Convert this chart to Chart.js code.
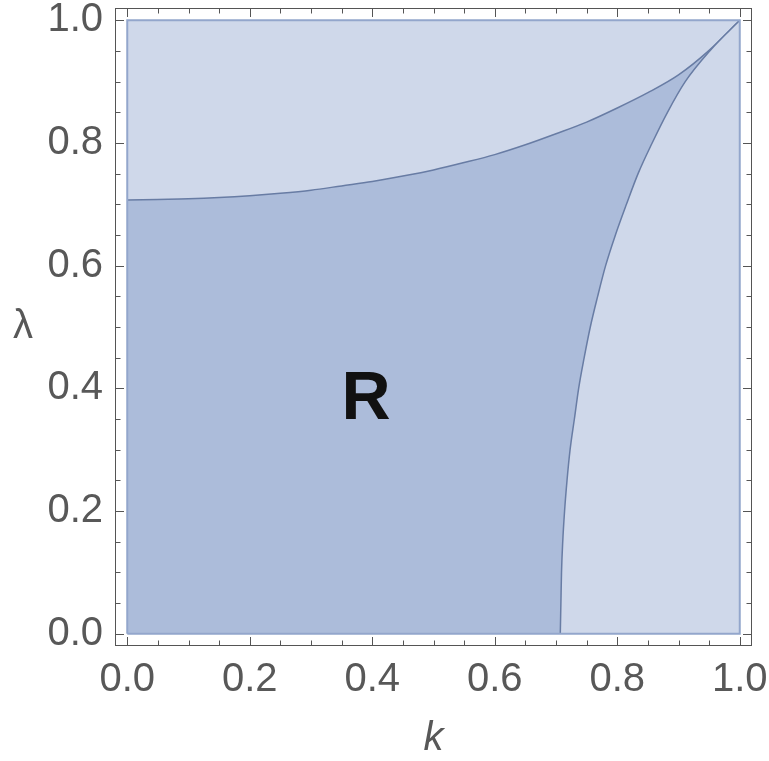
<!DOCTYPE html>
<html>
<head>
<meta charset="utf-8">
<title>Region R</title>
<script src="https://cdn.jsdelivr.net/npm/chart.js@4"></script>
<style>
  html, body { margin: 0; padding: 0; background: #fff; }
  #wrap { width: 769px; height: 761px; }
</style>
</head>
<body>
<div id="wrap"><canvas id="regionChart"></canvas></div>
<script>
// Upper boundary of R (k, lambda)
const upperK      = [0, 0.05, 0.1, 0.15, 0.2, 0.25, 0.3, 0.35, 0.4, 0.45, 0.5, 0.55, 0.6, 0.65, 0.7, 0.75, 0.8, 0.85, 0.9, 0.95, 1.0];
const upperLambda = [0.707, 0.708, 0.709, 0.711, 0.714, 0.718, 0.723, 0.730, 0.737, 0.746, 0.756, 0.768, 0.781, 0.797, 0.815, 0.834, 0.857, 0.882, 0.911, 0.951, 1.0];

// Right boundary of R (k, lambda)
const rightK      = [0.707, 0.708, 0.709, 0.711, 0.714, 0.718, 0.723, 0.730, 0.737, 0.746, 0.756, 0.768, 0.781, 0.797, 0.815, 0.834, 0.857, 0.882, 0.911, 0.951, 1.0];
const rightLambda = [0, 0.05, 0.1, 0.15, 0.2, 0.25, 0.3, 0.35, 0.4, 0.45, 0.5, 0.55, 0.6, 0.65, 0.7, 0.75, 0.8, 0.85, 0.9, 0.95, 1.0];

// The whole unit square, drawn as the lighter region
const squareK      = [0, 0, 1, 1, 0];
const squareLambda = [0, 1, 1, 0, 0];

// Ticks
const majorTicks = [0, 0.2, 0.4, 0.6, 0.8, 1.0];
const tickLabels = ['0.0', '0.2', '0.4', '0.6', '0.8', '1.0'];
const minorTicks = [0.05, 0.1, 0.15, 0.25, 0.3, 0.35, 0.45, 0.5, 0.55, 0.65, 0.7, 0.75, 0.85, 0.9, 0.95];
const axisMin = -0.02;
const axisMax = 1.02;

// Region label
const regionLabel = 'R';
const regionLabelK = 0.39;
const regionLabelLambda = 0.38;

const LIGHT = 'rgb(207, 216, 234)';
const DARK = 'rgb(172, 188, 218)';
const EDGE = 'rgb(147, 166, 204)';
const CURVE = 'rgb(104, 124, 164)';
const FRAME = 'rgb(85, 85, 85)';
const TEXT = 'rgb(88, 88, 88)';

const toPoints = (xs, ys) => xs.map((x, i) => ({ x: x, y: ys[i] }));

const upperPts = toPoints(upperK, upperLambda);
const rightPts = toPoints(rightK, rightLambda);
const squarePts = toPoints(squareK, squareLambda);
const squareTop = [{ x: squareK[1], y: squareLambda[1] }, { x: squareK[2], y: squareLambda[2] }];

// frame, inward ticks and the free texts
const framePlugin = {
    id: 'frame',
    afterDraw(chart) {
        const { ctx, chartArea: a, scales } = chart;
        const xs = scales.x, ys = scales.y;
        ctx.save();
        ctx.strokeStyle = FRAME;
        ctx.lineWidth = 1;
        ctx.strokeRect(a.left + 0.5, a.top + 0.5, a.right - a.left - 1, a.bottom - a.top - 1);

        const drawTicks = (values, len) => {
            ctx.beginPath();
            values.forEach(v => {
                const px = Math.round(xs.getPixelForValue(v)) + 0.5;
                const py = Math.round(ys.getPixelForValue(v)) + 0.5;
                ctx.moveTo(px, a.bottom); ctx.lineTo(px, a.bottom - len);
                ctx.moveTo(px, a.top); ctx.lineTo(px, a.top + len);
                ctx.moveTo(a.left, py); ctx.lineTo(a.left + len, py);
                ctx.moveTo(a.right, py); ctx.lineTo(a.right - len, py);
            });
            ctx.stroke();
        };
        drawTicks(majorTicks, 9);
        drawTicks(minorTicks, 5.5);

        // lambda axis title, kept upright
        ctx.fillStyle = TEXT;
        ctx.font = '40px "Liberation Sans", Arial, sans-serif';
        ctx.textAlign = 'center';
        ctx.textBaseline = 'middle';
        ctx.fillText('λ', 23, (a.top + a.bottom) / 2);

        // region label
        ctx.fillStyle = '#111';
        ctx.font = 'bold 68px "Liberation Sans", Arial, sans-serif';
        ctx.fillText(regionLabel, xs.getPixelForValue(regionLabelK), ys.getPixelForValue(regionLabelLambda));
        ctx.restore();
    }
};

const tickFont = { family: '"Liberation Sans", Arial, sans-serif', size: 40 };

new Chart(document.getElementById('regionChart'), {
    type: 'line',
    data: {
        datasets: [
            {
                // outline of the unit square
                data: squarePts,
                fill: false,
                borderColor: EDGE,
                borderWidth: 2,
                pointRadius: 0,
                order: 0
            },
            {
                // right of the right curve goes back to the light colour
                data: rightPts,
                fill: 'origin',
                backgroundColor: LIGHT,
                borderColor: CURVE,
                borderWidth: 1.5,
                pointRadius: 0,
                cubicInterpolationMode: 'monotone',
                order: 1
            },
            {
                // under the upper curve: region R
                data: upperPts,
                fill: 'origin',
                backgroundColor: DARK,
                borderColor: CURVE,
                borderWidth: 1.5,
                pointRadius: 0,
                cubicInterpolationMode: 'monotone',
                order: 2
            },
            {
                // light fill of the unit square
                data: squareTop,
                fill: 'origin',
                backgroundColor: LIGHT,
                borderWidth: 0,
                pointRadius: 0,
                order: 3
            }
        ]
    },
    options: {
        responsive: true,
        maintainAspectRatio: false,
        animation: false,
        layout: { padding: { left: 0, right: 17, top: 8, bottom: 0 } },
        plugins: {
            legend: { display: false },
            tooltip: { enabled: false }
        },
        scales: {
            x: {
                type: 'linear',
                position: 'bottom',
                min: axisMin,
                max: axisMax,
                grid: { display: false, drawTicks: false },
                border: { display: false },
                ticks: {
                    font: tickFont,
                    color: TEXT,
                    padding: 10,
                    autoSkip: false,
                    maxRotation: 0,
                    callback: v => tickLabels[majorTicks.indexOf(v)]
                },
                title: {
                    display: true,
                    text: 'k',
                    color: TEXT,
                    font: { family: '"Liberation Sans", Arial, sans-serif', size: 40, style: 'italic', lineHeight: 1.1 },
                    padding: 0
                },
                afterBuildTicks: s => { s.ticks = majorTicks.map(v => ({ value: v })); },
                afterFit: s => { s.height = 115; s.paddingLeft = 0; s.paddingRight = 0; }
            },
            y: {
                type: 'linear',
                position: 'left',
                min: axisMin,
                max: axisMax,
                grid: { display: false, drawTicks: false },
                border: { display: false },
                ticks: {
                    font: tickFont,
                    color: TEXT,
                    padding: 12,
                    autoSkip: false,
                    callback: v => tickLabels[majorTicks.indexOf(v)]
                },
                afterBuildTicks: s => { s.ticks = majorTicks.map(v => ({ value: v })); },
                afterFit: s => { s.width = 115; s.paddingTop = 0; s.paddingBottom = 0; }
            }
        }
    },
    plugins: [framePlugin]
});
</script>
</body>
</html>
